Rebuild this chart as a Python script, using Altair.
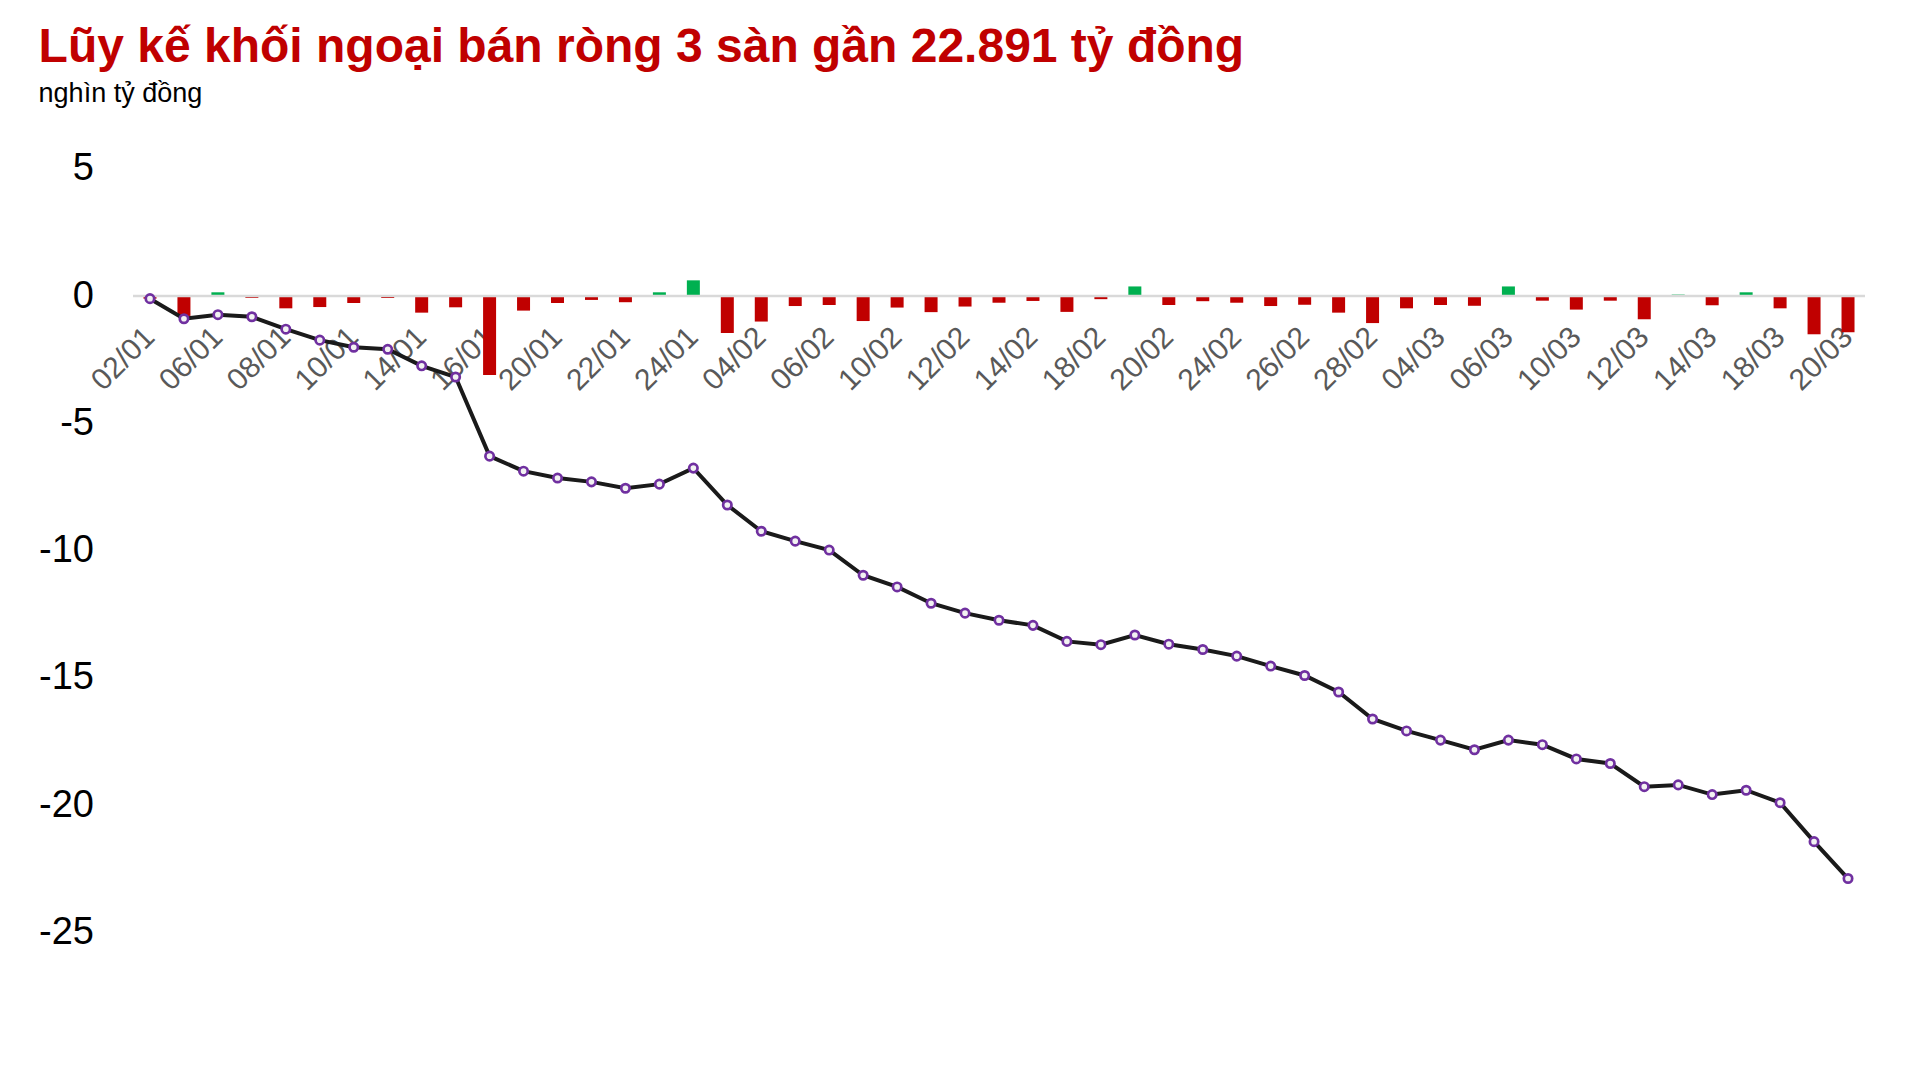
import altair as alt
import pandas as pd

dates = ["02/01", "03/01", "06/01", "07/01", "08/01", "09/01", "10/01", "13/01", "14/01", "15/01",
         "16/01", "17/01", "20/01", "21/01", "22/01", "23/01", "24/01", "03/02", "04/02", "05/02",
         "06/02", "07/02", "10/02", "11/02", "12/02", "13/02", "14/02", "17/02", "18/02", "19/02",
         "20/02", "21/02", "24/02", "25/02", "26/02", "27/02", "28/02", "03/03", "04/03", "05/03",
         "06/03", "07/03", "10/03", "11/03", "12/03", "13/03", "14/03", "17/03", "18/03", "19/03",
         "20/03"]

daily_net = [-0.10, -0.78, 0.15, -0.07, -0.48, -0.43, -0.27, -0.07, -0.65, -0.44,
             -3.10, -0.57, -0.27, -0.15, -0.24, 0.15, 0.62, -1.45, -1.00, -0.39,
             -0.35, -0.98, -0.45, -0.63, -0.41, -0.26, -0.19, -0.62, -0.12, 0.38,
             -0.35, -0.20, -0.26, -0.39, -0.34, -0.65, -1.06, -0.48, -0.35, -0.38,
             0.38, -0.18, -0.53, -0.18, -0.91, 0.06, -0.36, 0.15, -0.48, -1.50,
             -1.42]

cumulative = [-0.10, -0.89, -0.73, -0.81, -1.30, -1.73, -2.01, -2.09, -2.74, -3.18,
              -6.29, -6.88, -7.15, -7.30, -7.55, -7.39, -6.76, -8.21, -9.24, -9.63,
              -9.98, -10.97, -11.43, -12.07, -12.46, -12.74, -12.94, -13.57, -13.70, -13.32,
              -13.68, -13.89, -14.15, -14.54, -14.91, -15.56, -16.62, -17.09, -17.45, -17.83,
              -17.45, -17.63, -18.19, -18.37, -19.28, -19.21, -19.59, -19.42, -19.91, -21.44,
              -22.89]

x_label_dates = ["02/01", "06/01", "08/01", "10/01", "14/01", "16/01", "20/01", "22/01", "24/01",
                 "04/02", "06/02", "10/02", "12/02", "14/02", "18/02", "20/02", "24/02", "26/02",
                 "28/02", "04/03", "06/03", "10/03", "12/03", "14/03", "18/03", "20/03"]

y_tick_values = [5, 0, -5, -10, -15, -20, -25]
y_domain = [-29, 7]

title_text = "Lũy kế khối ngoại bán ròng 3 sàn gần 22.891 tỷ đồng"
subtitle_text = "nghìn tỷ đồng"

df = pd.DataFrame({"date": dates, "daily": daily_net, "cum": cumulative})
zero_df = pd.DataFrame({"zero": [0]})

FONT = "Liberation Sans"

x_axis = alt.Axis(
    values=x_label_dates,
    labelAngle=-45,
    labelAlign="right",
    labelBaseline="middle",
    labelFontSize=30,
    labelColor="#595959",
    labelFont=FONT,
    labelPadding=36,
    labelOverlap=False,
    ticks=False,
    domain=False,
    grid=False,
    offset=-738,
    title=None,
)

y_axis = alt.Axis(
    values=y_tick_values,
    labelExpr="'' + datum.value",
    labelFontSize=38,
    labelColor="#000000",
    labelFont=FONT,
    labelPadding=39.5,
    ticks=False,
    domain=False,
    grid=False,
    title=None,
)

x_enc = alt.X("date:N", sort=dates, scale=alt.Scale(paddingInner=0, paddingOuter=0), axis=x_axis)
y_scale = alt.Scale(domain=y_domain, nice=False, zero=False)

bars = alt.Chart(df).mark_bar(size=13).encode(
    x=x_enc,
    y=alt.Y("daily:Q", scale=y_scale, axis=y_axis),
    y2=alt.datum(0),
    color=alt.condition("datum.daily >= 0", alt.value("#00B050"), alt.value("#C00000")),
)

zero_rule = alt.Chart(zero_df).mark_rule(color="#d9d9d9", strokeWidth=2.5).encode(
    y=alt.Y("zero:Q", scale=y_scale, axis=y_axis)
)

line = alt.Chart(df).mark_line(color="#1a1a1a", strokeWidth=4).encode(
    x=x_enc,
    y=alt.Y("cum:Q", scale=y_scale, axis=y_axis),
)

points = alt.Chart(df).mark_point(
    shape="circle", filled=True, fill="#f2f2f2", stroke="#7030A0",
    strokeWidth=2.7, size=70, opacity=1,
).encode(
    x=x_enc,
    y=alt.Y("cum:Q", scale=y_scale, axis=y_axis),
)

chart = alt.layer(bars, zero_rule, line, points).properties(
    width=1732,
    height=916,
    padding={"left": 30, "top": 16, "right": 5, "bottom": 5},
    title=alt.TitleParams(
        text=title_text,
        subtitle=subtitle_text,
        anchor="start",
        frame="bounds",
        font=FONT,
        fontSize=48,
        fontWeight="bold",
        color="#C00000",
        subtitleFont=FONT,
        subtitleFontSize=27,
        subtitleColor="#000000",
        subtitlePadding=9,
        offset=11,
    ),
).configure(background="white").configure_view(strokeWidth=0, stroke="transparent")

chart.save("out.html", embed_options={"renderer": "svg", "actions": False})
